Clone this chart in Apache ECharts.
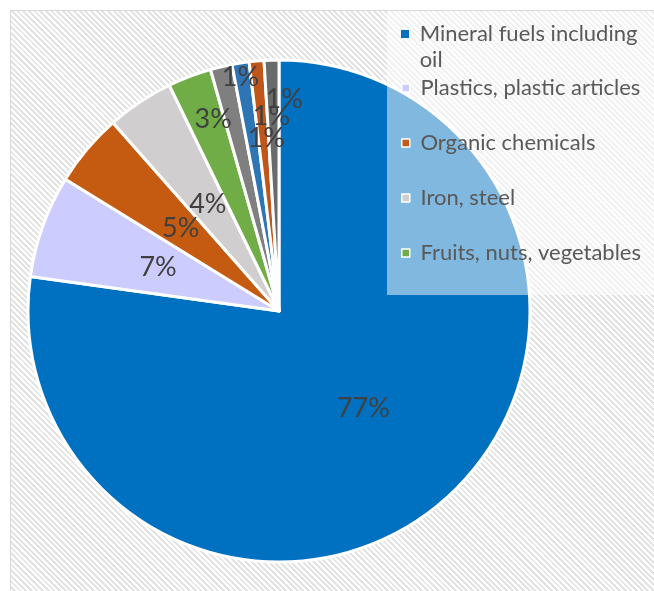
<!DOCTYPE html>
<html>
<head>
<meta charset="utf-8">
<title>Export structure</title>
<script src="https://cdn.jsdelivr.net/npm/echarts@6/dist/echarts.min.js"></script>
<style>
  html, body { margin: 0; padding: 0; width: 654px; height: 591px; overflow: hidden; background: #ffffff; }
  #frame {
    position: absolute; left: 10px; top: 10px; width: 680px; height: 620px;
    border: 1px solid #d9d9d9;
    background: repeating-linear-gradient(45deg, #ffffff 0px, #ffffff 2px, #e3e3e3 2px, #e3e3e3 4px);
  }
  #chart { position: absolute; left: 0; top: 0; width: 654px; height: 591px; }
</style>
</head>
<body>
<div id="frame"></div>
<div id="chart"></div>
<script>
// Product groups, in clockwise order from twelve o'clock
const categories = [
  'Mineral fuels including oil',
  'Plastics, plastic articles',
  'Organic chemicals',
  'Iron, steel',
  'Fruits, nuts, vegetables',
  'Other group 1',
  'Other group 2',
  'Other group 3',
  'Other group 4'
];
// Share of total exports, percent
const shares = [77.2, 6.6, 4.7, 4.3, 2.8, 1.4, 1.1, 0.95, 0.95];
const sliceColors = ['#0070C0', '#CCCCFF', '#C55A11', '#D0CECE', '#70AD47', '#7F7F7F', '#2E75B6', '#C0561A', '#6B6B6B'];

// Legend lists only the first five groups
const legendFirst = categories.slice(0, 1);
const legendRest = categories.slice(1, 5);

// Pixel nudges for the crowded small-slice labels
const labelNudge = [[0, 0], [0, 0], [0, 0], [0, 0], [-20, -72], [-9, -109], [7, -46], [4, -67], [9, -83]];

const FONT = 'Lato, "Open Sans", sans-serif';

const chart = echarts.init(document.getElementById('chart'), null, { renderer: 'canvas' });

chart.setOption({
  backgroundColor: 'transparent',
  animation: false,
  legend: [
    {
      // first entry wraps onto two lines; a blank leading line keeps the marker level with the first line
      data: legendFirst,
      orient: 'vertical',
      left: 401,
      top: -5,
      padding: 0,
      z: 6,
      icon: 'rect',
      itemWidth: 8,
      itemHeight: 8,
      itemStyle: { borderWidth: 0 },
      formatter: name => ' \n ' + name.replace('including ', 'including\n '),
      textStyle: { color: '#595959', fontSize: 22, fontFamily: FONT, lineHeight: 26 }
    },
    {
      data: legendRest,
      orient: 'vertical',
      left: 387,
      top: 11,
      padding: [64, 40, 29, 14],
      itemGap: 29,
      z: 5,
      backgroundColor: 'rgba(255,255,255,0.5)',
      icon: 'rect',
      itemWidth: 8,
      itemHeight: 8,
      itemStyle: { borderColor: '#ffffff', borderWidth: 1.5 },
      formatter: name => ' ' + name,
      textStyle: { color: '#595959', fontSize: 22, fontFamily: FONT, lineHeight: 26 }
    }
  ],
  series: [
    {
      type: 'pie',
      center: [279, 311],
      radius: 251,
      startAngle: 90,
      clockwise: true,
      avoidLabelOverlap: false,
      percentPrecision: 0,
      itemStyle: { borderColor: '#ffffff', borderWidth: 3 },
      label: {
        show: true,
        position: 'inside',
        formatter: '{d}%',
        color: '#404040',
        fontSize: 27,
        fontFamily: FONT
      },
      labelLine: { show: false },
      labelLayout: params => {
        const n = labelNudge[params.dataIndex] || [0, 0];
        return { dx: n[0], dy: n[1] };
      },
      emphasis: { disabled: true },
      data: categories.map((name, i) => ({
        name: name,
        value: shares[i],
        itemStyle: { color: sliceColors[i] }
      }))
    }
  ]
});
</script>
</body>
</html>
